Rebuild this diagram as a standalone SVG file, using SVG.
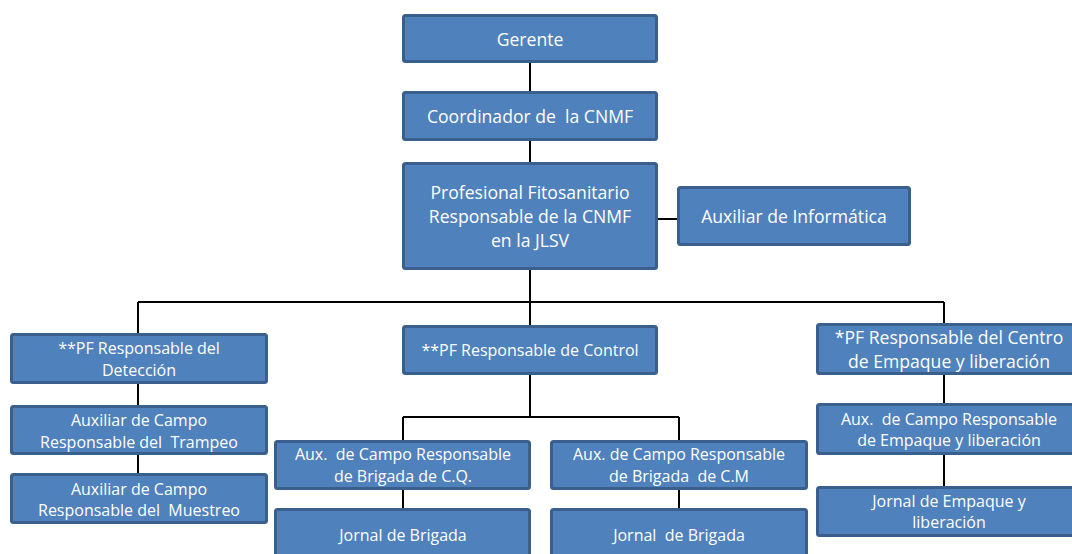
<svg xmlns="http://www.w3.org/2000/svg" width="1072" height="554" viewBox="0 0 1072 554">
<style>
.box{fill:#4f81bd;stroke:#3a5f8c;stroke-width:3}
.t{font-family:"Open Sans","Liberation Sans",Arial,sans-serif;font-size:16px;fill:#ffffff;text-anchor:middle;white-space:pre}
.L{font-size:17.6px}
.c{stroke:#000;stroke-width:2;fill:none}
</style>
<rect width="1072" height="554" fill="#ffffff"/>
<g id="connectors">
<path class="c" d="M530 63V92M530 141V163M530 270V302M658 219H677M138 302H944M138 302V334M944 302V324M530 302V326M138 384V406M138 455V474M530 375V417M403 417H679M403 417V441M679 417V441M403 490V509M679 490V509M944 375V404M944 455V487"/>
</g>
<g id="gerente"><rect class="box" x="403.5" y="15.5" width="253" height="46" rx="2"/><text class="t L" x="530" y="46">Gerente</text></g>
<g id="coordinador"><rect class="box" x="403.5" y="92.5" width="253" height="47" rx="2"/><text class="t L" x="530" y="123" xml:space="preserve">Coordinador de  la CNMF</text></g>
<g id="profesional"><rect class="box" x="403.5" y="163.5" width="253" height="105" rx="2"/><text class="t L" x="530" y="199">Profesional Fitosanitario</text><text class="t L" x="530" y="223">Responsable de la CNMF</text><text class="t L" x="530" y="247">en la JLSV</text></g>
<g id="informatica"><rect class="box" x="678.5" y="187.5" width="231" height="57" rx="2"/><text class="t L" x="794" y="223">Auxiliar de Informática</text></g>
<g id="deteccion"><rect class="box" x="11.5" y="334.5" width="255" height="48" rx="2"/><text class="t" x="139" y="354">**PF Responsable del</text><text class="t" x="139" y="376">Detección</text></g>
<g id="trampeo"><rect class="box" x="11.5" y="406.5" width="255" height="47" rx="2"/><text class="t" x="139" y="426">Auxiliar de Campo</text><text class="t" x="139" y="448" xml:space="preserve">Responsable del  Trampeo</text></g>
<g id="muestreo"><rect class="box" x="11.5" y="474.5" width="255" height="48" rx="2"/><text class="t" x="139" y="495">Auxiliar de Campo</text><text class="t" x="139" y="516" xml:space="preserve">Responsable del  Muestreo</text></g>
<g id="control"><rect class="box" x="403.5" y="326.5" width="253" height="47" rx="2"/><text class="t" x="530" y="356">**PF Responsable de Control</text></g>
<g id="cq"><rect class="box" x="275.5" y="441.5" width="254" height="47" rx="2"/><text class="t" x="403" y="460" xml:space="preserve">Aux.  de Campo Responsable</text><text class="t" x="403" y="482">de Brigada de C.Q.</text></g>
<g id="cm"><rect class="box" x="551.5" y="441.5" width="255" height="47" rx="2"/><text class="t" x="679" y="460">Aux. de Campo Responsable</text><text class="t" x="679" y="482" xml:space="preserve">de Brigada  de C.M</text></g>
<g id="jornal1"><rect class="box" x="275.5" y="509.5" width="254" height="60" rx="2"/><text class="t" x="403" y="541">Jornal de Brigada</text></g>
<g id="jornal2"><rect class="box" x="551.5" y="509.5" width="255" height="60" rx="2"/><text class="t" x="679" y="541" xml:space="preserve">Jornal  de Brigada</text></g>
<g id="centro"><rect class="box" x="817.5" y="324.5" width="263" height="49" rx="2"/><text class="t L" x="949" y="344">*PF Responsable del Centro</text><text class="t L" x="949" y="368">de Empaque y liberación</text></g>
<g id="auxempaque"><rect class="box" x="817.5" y="404.5" width="263" height="49" rx="2"/><text class="t" x="949" y="425" xml:space="preserve">Aux.  de Campo Responsable</text><text class="t" x="949" y="446">de Empaque y liberación</text></g>
<g id="jornalempaque"><rect class="box" x="817.5" y="487.5" width="263" height="48" rx="2"/><text class="t" x="949" y="507">Jornal de Empaque y</text><text class="t" x="949" y="528">liberación</text></g>
</svg>
